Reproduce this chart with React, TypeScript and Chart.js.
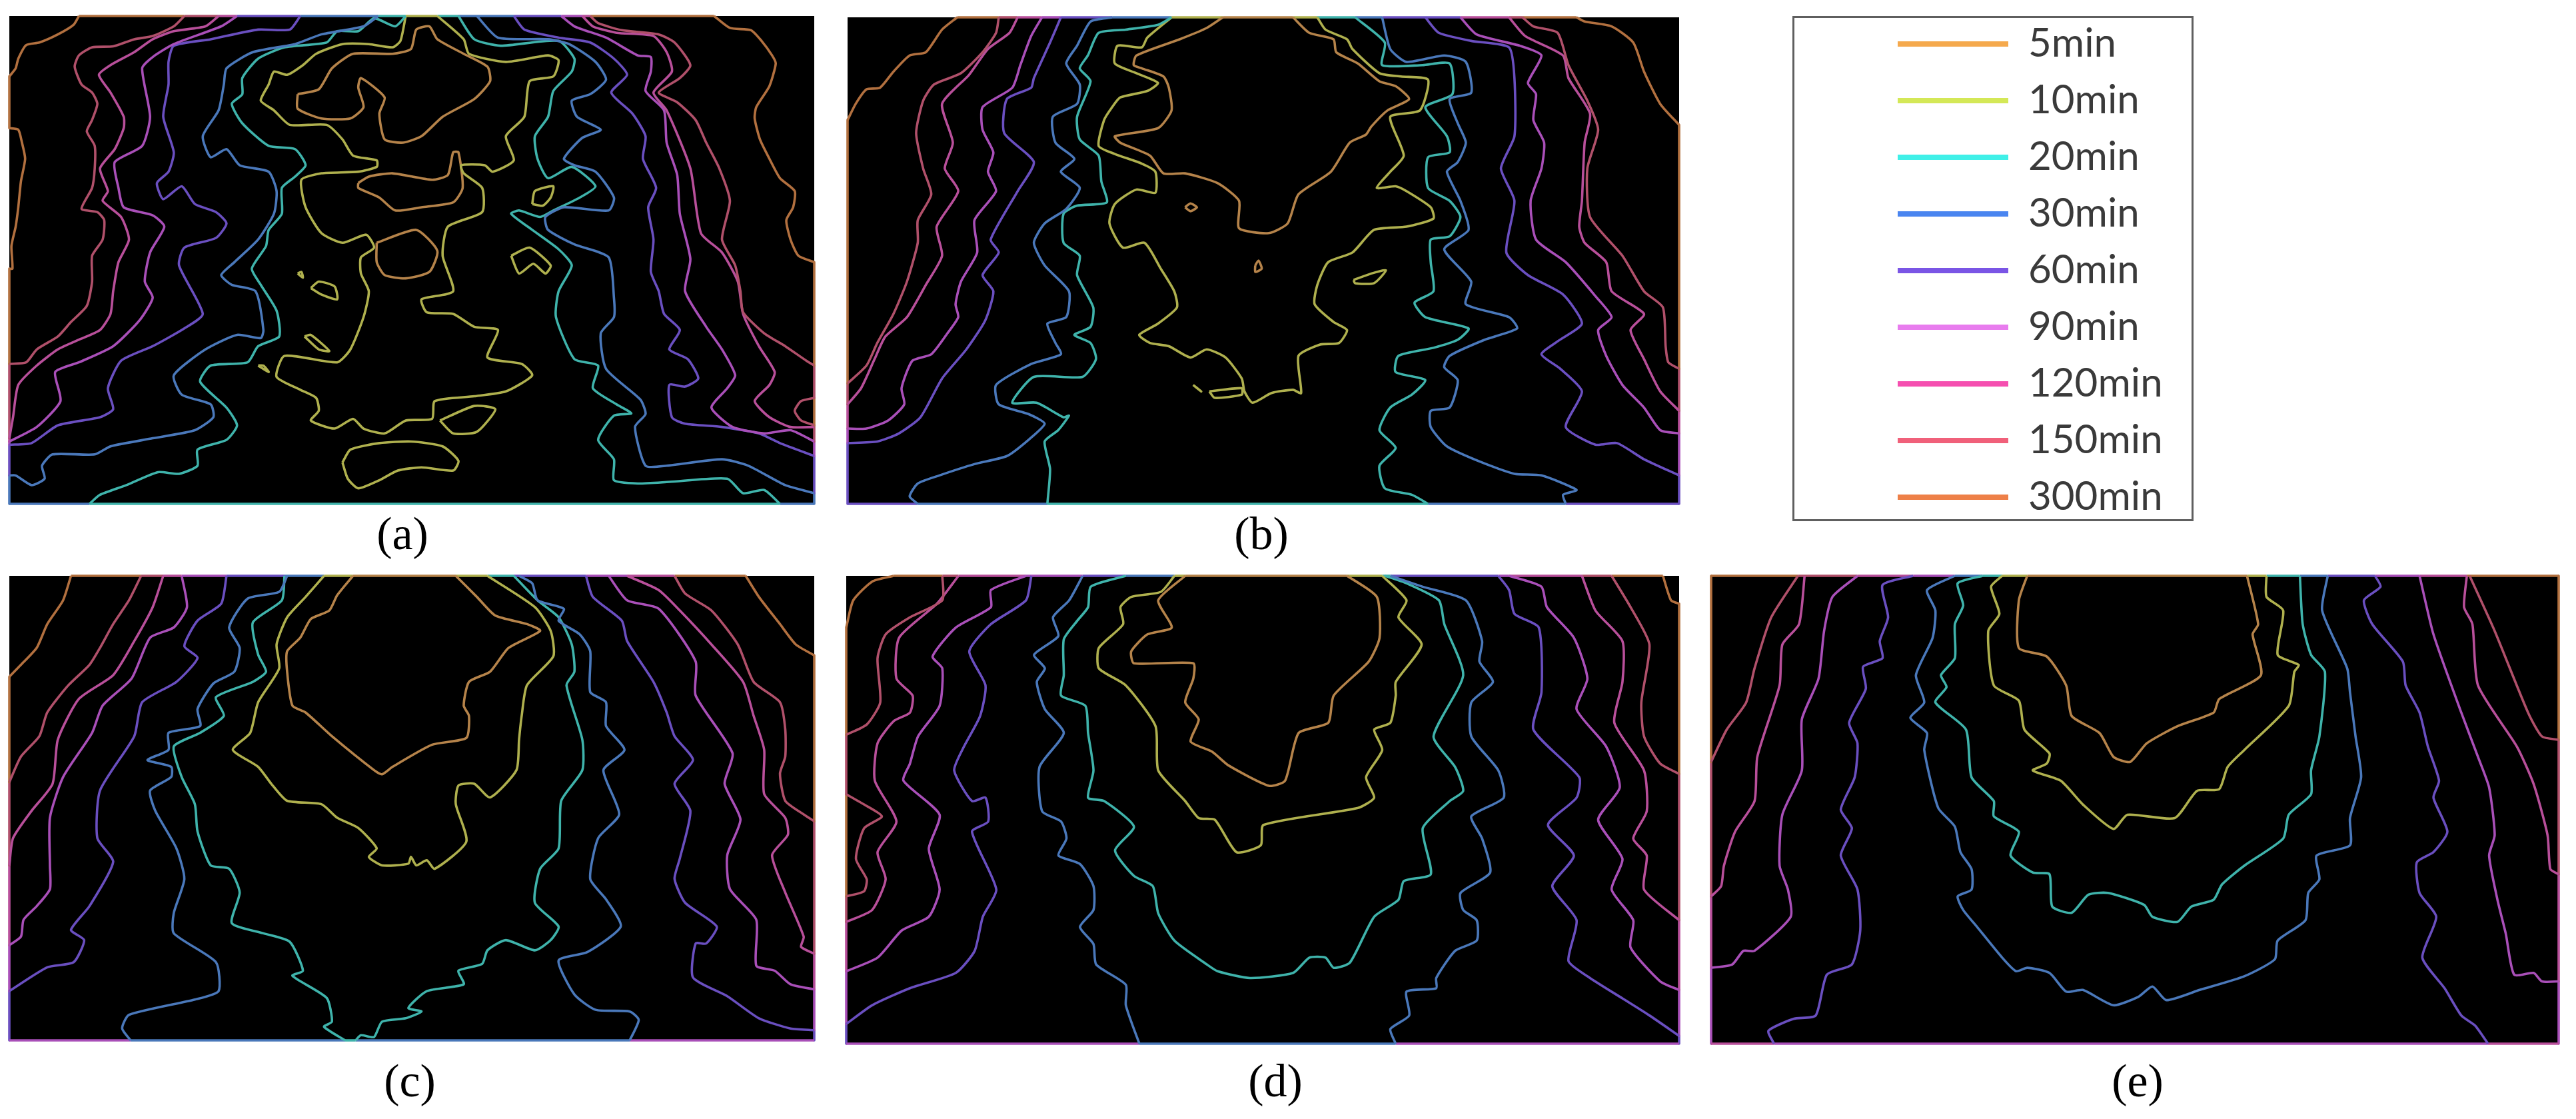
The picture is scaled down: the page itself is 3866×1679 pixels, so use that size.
import React, { useEffect, useRef } from "react";
import { Chart, registerables } from "chart.js";

Chart.register(...registerables);

const levelLabels = ["5min", "10min", "20min", "30min", "60min", "90min", "120min", "150min", "300min"];
const legendColors = ["#f5a94d", "#d4e857", "#40f0e8", "#4a85f0", "#7a55e5", "#e87cee", "#f54fb0", "#f0607a", "#ee8048"];
const lineColors = ["#b5834a", "#afb04e", "#3fb3ab", "#4a78ba", "#6a4fc0", "#a94fb8", "#b84f9a", "#b0506a", "#b2703f"];
const panelLabels = ["(a)", "(b)", "(c)", "(d)", "(e)"];

type P = number[][];

// ---------- panel (a) ----------
const a300A: P = [[150,28],[140,55],[110,85],[75,110],[50,118],[35,160],[30,190],[18,215]];
const a300B: P = [[18,375],[35,380],[42,420],[48,470],[40,540],[35,620],[30,680],[22,740],[24,810],[18,810]];
const a300C: P = [[1355,28],[1385,65],[1425,72],[1445,105],[1465,150],[1472,175],[1460,245],[1435,310],[1432,345],[1442,410],[1460,470],[1480,530],[1508,570],[1505,620],[1492,660],[1500,720],[1515,770],[1545,790]];
const a150A: P = [[350,28],[330,60],[290,90],[255,100],[215,122],[175,125],[150,150],[142,185],[155,240],[175,265],[185,300],[175,350],[165,385],[180,430],[180,500],[175,560],[155,625],[185,635],[198,660],[195,720],[175,770],[175,850],[165,925],[135,975],[110,1020],[70,1060],[50,1100],[18,1105]];
const a150B: P = [[1120,28],[1135,50],[1180,72],[1250,85],[1280,110],[1310,180],[1290,220],[1250,265],[1285,295],[1320,350],[1340,420],[1365,500],[1385,600],[1370,720],[1395,800],[1405,880],[1410,945],[1450,1010],[1490,1050],[1530,1095],[1545,1110]];
const a150C: P = [[1545,1210],[1520,1220],[1508,1250],[1520,1280],[1545,1295]];
const a120A: P = [[415,28],[390,60],[330,75],[290,100],[255,140],[210,180],[188,210],[210,265],[235,340],[235,375],[218,440],[190,500],[205,570],[195,600],[230,650],[245,720],[225,790],[215,880],[210,950],[190,1000],[150,1030],[110,1060],[70,1110],[35,1170],[25,1270],[18,1335]];
const a120B: P = [[1105,28],[1125,60],[1170,80],[1240,90],[1265,140],[1275,200],[1240,265],[1265,320],[1310,500],[1330,700],[1370,760],[1400,850],[1410,950],[1440,1050],[1470,1130],[1460,1170],[1432,1220],[1460,1270],[1500,1300],[1545,1300]];
const a90A: P = [[450,28],[420,60],[330,115],[290,155],[270,190],[285,340],[270,430],[218,480],[225,560],[235,620],[290,645],[312,680],[285,760],[275,850],[290,900],[265,970],[215,1050],[150,1100],[105,1130],[115,1220],[70,1300],[18,1345]];
const a90B: P = [[1065,28],[1090,60],[1150,95],[1210,150],[1235,155],[1235,200],[1225,260],[1260,320],[1265,420],[1285,520],[1290,640],[1310,780],[1300,880],[1340,990],[1370,1060],[1395,1140],[1380,1180],[1350,1240],[1390,1300],[1450,1320],[1500,1310],[1545,1345]];
const a60A: P = [[570,28],[550,70],[490,70],[400,100],[330,120],[320,170],[320,240],[310,340],[330,450],[320,510],[298,545],[310,595],[345,555],[370,610],[410,635],[430,670],[410,715],[350,745],[340,800],[385,950],[350,995],[290,1050],[230,1095],[205,1180],[215,1245],[190,1270],[110,1295],[60,1350],[18,1355]];
const a60B: P = [[975,28],[995,70],[1060,95],[1120,110],[1165,160],[1190,210],[1160,265],[1200,330],[1225,400],[1220,470],[1245,560],[1230,620],[1240,720],[1235,820],[1250,880],[1260,950],[1290,1000],[1270,1060],[1305,1090],[1325,1150],[1300,1175],[1270,1170],[1275,1270],[1300,1290],[1370,1300],[1440,1320],[1480,1350],[1545,1390]];
const a30A: P = [[718,28],[690,60],[610,85],[560,115],[480,140],[430,190],[425,240],[415,320],[385,400],[400,465],[430,440],[455,490],[510,510],[525,570],[520,640],[490,720],[445,790],[420,830],[440,860],[485,880],[500,1000],[495,1025],[450,1015],[390,1060],[330,1140],[345,1200],[400,1230],[405,1270],[370,1310],[290,1335],[210,1360],[180,1385],[100,1385],[80,1420],[85,1460],[60,1480],[30,1450],[18,1450]];
const a30B: P = [[905,28],[945,95],[1040,100],[1080,115],[1130,170],[1150,225],[1120,270],[1085,290],[1095,340],[1140,380],[1105,405],[1070,470],[1090,490],[1130,510],[1165,590],[1155,630],[1070,620],[1035,650],[1040,690],[1090,735],[1155,775],[1165,900],[1165,960],[1140,1010],[1150,1120],[1215,1215],[1225,1260],[1205,1300],[1225,1420],[1265,1420],[1370,1400],[1420,1420],[1490,1480],[1545,1505]];
const a20A: P = [[770,28],[750,60],[710,35],[680,75],[640,75],[620,110],[540,125],[490,160],[460,220],[460,270],[440,300],[460,360],[510,430],[560,440],[580,490],[560,525],[535,560],[535,640],[510,690],[505,740],[478,810],[495,860],[525,940],[530,1020],[490,1050],[470,1100],[400,1110],[380,1160],[430,1240],[450,1295],[430,1340],[375,1370],[375,1420],[340,1445],[300,1440],[240,1480],[190,1510],[170,1538]];
const a20B: P = [[870,28],[900,100],[950,120],[1060,105],[1090,160],[1085,200],[1050,260],[1040,340],[1015,400],[1020,470],[1040,530],[1085,495],[1130,555],[1100,590],[1050,630],[1025,650],[985,630],[970,640],[1010,690],[1060,750],[1085,800],[1060,880],[1055,960],[1090,1090],[1135,1110],[1125,1180],[1170,1230],[1198,1258],[1165,1265],[1135,1340],[1165,1400],[1165,1465],[1210,1475],[1270,1470],[1380,1460],[1410,1505],[1450,1495],[1480,1538]];
const a10Main: P = [[770,28],[760,105],[745,125],[700,115],[650,115],[600,145],[575,180],[545,210],[520,200],[510,240],[495,290],[520,320],[550,365],[620,365],[650,410],[670,460],[715,475],[715,495],[680,510],[610,515],[572,535],[580,620],[610,700],[650,730],[695,705],[710,745],[685,775],[685,825],[700,880],[690,960],[665,1060],[640,1100],[540,1080],[525,1145],[570,1185],[600,1210],[605,1250],[590,1280],[635,1305],[670,1275],[690,1305],[730,1320],[770,1280],[820,1275],[825,1220],[900,1205],[960,1190],[1010,1140],[990,1105],[925,1085],[945,1000],[900,990],[860,950],[810,945],[800,905],[860,880],[840,770],[850,680],[915,635],[915,560],[880,515],[875,490],[920,490],[935,510],[975,475],[960,400],[995,340],[1005,230],[1050,215],[1060,165],[1040,150],[960,170],[890,145],[880,100],[830,28]];
const a10I1: P = [[1010,610],[1015,570],[1050,555],[1045,590],[1030,615],[1010,610]];
const a10I2: P = [[970,770],[1005,745],[1045,800],[1035,825],[1012,795],[985,825],[970,770]];
const a10I3: P = [[565,825],[572,820],[575,838],[565,825]];
const a10I4: P = [[590,870],[605,850],[635,865],[640,905],[610,890],[590,870]];
const a10I5: P = [[578,1020],[590,1015],[625,1065],[605,1060],[578,1020]];
const a10I6: P = [[490,1110],[500,1110],[510,1130],[490,1110]];
const a10I7: P = [[835,1280],[900,1235],[940,1245],[905,1315],[860,1320],[835,1280]];
const a10I8: P = [[650,1410],[665,1370],[720,1350],[780,1345],[840,1360],[870,1405],[860,1435],[800,1425],[755,1435],[720,1465],[680,1490],[660,1460],[650,1410]];
const a5A: P = [[565,270],[605,255],[630,190],[670,145],[745,145],[780,130],[790,70],[815,60],[830,100],[880,145],[925,185],[930,230],[900,285],[840,340],[800,400],[765,420],[730,410],[720,330],[730,280],[685,220],[680,250],[690,310],[665,345],[610,345],[565,315],[565,270]];
const a5B: P = [[680,545],[700,525],[745,515],[820,535],[850,520],[860,450],[870,450],[878,560],[860,605],[800,620],[750,630],[720,590],[680,560],[680,545]];
const a5C: P = [[715,730],[790,690],[830,755],[815,820],[770,840],[730,830],[715,790],[715,730]];
const aEdges: number[][] = [
  [8,150,28,350,28],[7,350,28,415,28],[6,415,28,450,28],[4,450,28,570,28],[3,570,28,718,28],[2,718,28,770,28],[1,770,28,830,28],[2,830,28,870,28],[3,870,28,975,28],[4,975,28,1065,28],[5,1065,28,1105,28],[6,1105,28,1120,28],[8,1120,28,1355,28],
  [3,18,1538,170,1538],[2,170,1538,1480,1538],[3,1480,1538,1545,1538],
  [8,18,215,18,375],[8,18,810,18,1105],[7,18,1105,18,1335],[6,18,1335,18,1345],[5,18,1345,18,1355],[4,18,1355,18,1450],[3,18,1450,18,1538],
  [8,1545,790,1545,1110],[7,1545,1110,1545,1210],[8,1545,1210,1545,1295],[7,1545,1295,1545,1345],[5,1545,1345,1545,1390],[4,1545,1390,1545,1505],[3,1545,1505,1545,1538],
];
const panelA: [number, P][] = [[8,a300A],[8,a300B],[8,a300C],[7,a150A],[7,a150B],[7,a150C],[6,a120A],[6,a120B],[5,a90A],[5,a90B],[4,a60A],[4,a60B],[3,a30A],[3,a30B],[2,a20A],[2,a20B],[1,a10Main],[1,a10I1],[1,a10I2],[1,a10I3],[1,a10I4],[1,a10I5],[1,a10I6],[1,a10I7],[1,a10I8],[0,a5A],[0,a5B],[0,a5C]];

// ---------- panel (b) ----------
const b300L: P = [[218,32],[190,70],[160,140],[130,150],[100,200],[75,250],[50,255],[30,300],[15,350]];
const b300R: P = [[1365,32],[1380,45],[1430,60],[1470,110],[1490,200],[1520,300],[1555,365]];
const b150L: P = [[295,32],[290,80],[265,140],[225,205],[175,240],[155,290],[142,390],[155,500],[170,580],[145,660],[145,730],[125,850],[100,950],[70,1040],[50,1110],[15,1165]];
const b150R: P = [[1265,32],[1285,60],[1330,80],[1350,180],[1385,290],[1405,380],[1385,500],[1390,650],[1450,770],[1490,880],[1525,930],[1530,1050],[1535,1100],[1555,1120]];
const b120L: P = [[330,32],[315,80],[275,130],[240,210],[190,300],[210,420],[195,500],[220,570],[180,680],[190,770],[160,860],[125,960],[85,1020],[65,1090],[40,1180],[15,1230]];
const b120R: P = [[1240,32],[1270,90],[1340,150],[1350,220],[1390,330],[1380,420],[1375,600],[1370,680],[1380,730],[1420,790],[1430,880],[1490,950],[1465,1000],[1490,1090],[1520,1190],[1555,1250]];
const b90L: P = [[375,32],[355,90],[335,180],[320,250],[265,310],[265,380],[285,450],[275,510],[290,570],[250,660],[255,760],[225,850],[215,920],[220,960],[200,1010],[170,1075],[135,1095],[115,1180],[120,1230],[90,1280],[50,1305],[15,1305]];
const b90R: P = [[1150,32],[1180,85],[1260,120],[1300,150],[1275,235],[1290,270],[1285,350],[1305,420],[1300,500],[1280,600],[1290,720],[1345,790],[1400,895],[1430,960],[1405,1000],[1420,1080],[1450,1170],[1490,1240],[1520,1310],[1555,1320]];
const b60L: P = [[410,32],[390,110],[360,220],[355,250],[310,285],[305,390],[360,480],[330,570],[280,720],[295,760],[265,830],[285,880],[270,970],[235,1060],[190,1150],[150,1270],[110,1320],[70,1345],[15,1350]];
const b60R: P = [[1085,32],[1110,80],[1170,105],[1240,125],[1250,220],[1250,400],[1225,500],[1250,600],[1235,760],[1275,830],[1340,890],[1375,980],[1330,1035],[1300,1075],[1335,1120],[1375,1190],[1345,1300],[1400,1355],[1440,1350],[1490,1400],[1555,1450]];
const b30L: P = [[505,32],[465,45],[440,120],[420,175],[445,240],[440,300],[395,340],[400,420],[435,470],[410,510],[445,560],[420,625],[380,670],[360,730],[380,800],[425,880],[420,960],[385,980],[400,1040],[410,1075],[355,1105],[290,1170],[295,1230],[350,1260],[380,1290],[350,1340],[310,1390],[250,1415],[185,1450],[145,1475],[130,1515],[145,1538]];
const b30R: P = [[1005,32],[1020,130],[1050,170],[1120,150],[1160,170],[1170,265],[1130,285],[1145,360],[1160,420],[1145,480],[1125,510],[1150,600],[1165,690],[1120,750],[1170,850],[1160,920],[1240,960],[1255,995],[1195,1030],[1130,1080],[1120,1115],[1145,1155],[1130,1240],[1095,1250],[1095,1300],[1125,1360],[1190,1410],[1250,1445],[1300,1450],[1365,1495],[1340,1510],[1345,1538]];
const b20L: P = [[615,32],[590,55],[530,70],[480,80],[460,150],[445,190],[465,230],[440,340],[445,410],[480,460],[485,540],[495,605],[440,615],[415,640],[415,730],[445,770],[440,830],[470,930],[465,990],[435,1015],[465,1040],[475,1090],[450,1145],[360,1145],[320,1225],[365,1225],[415,1270],[425,1265],[405,1310],[380,1345],[390,1430],[385,1538]];
const b20R: P = [[955,32],[1010,110],[1005,180],[1080,180],[1130,175],[1135,270],[1085,310],[1125,400],[1130,450],[1090,465],[1090,560],[1130,600],[1150,650],[1130,710],[1095,720],[1095,790],[1100,880],[1065,915],[1085,960],[1165,995],[1145,1030],[1100,1055],[1035,1080],[1030,1130],[1085,1155],[1060,1200],[1020,1240],[1000,1310],[1030,1365],[1000,1420],[1010,1490],[1060,1510],[1090,1538]];
const b10Main: P = [[615,32],[570,95],[560,125],[515,120],[510,175],[550,205],[590,235],[570,260],[520,280],[505,310],[490,350],[480,430],[510,455],[560,485],[585,510],[585,575],[550,565],[510,610],[500,670],[525,745],[565,730],[595,810],[620,880],[625,930],[590,980],[555,1015],[575,1040],[610,1050],[650,1085],[680,1060],[715,1085],[745,1150],[750,1190],[765,1225],[800,1195],[840,1185],[855,1195],[850,1080],[890,1045],[925,1040],[940,1000],[915,975],[880,920],[885,860],[905,790],[950,760],[990,690],[1050,680],[1100,655],[1095,620],[1050,570],[1030,555],[995,560],[1020,510],[1045,460],[1020,340],[1075,320],[1090,225],[1040,215],[1000,205],[950,130],[940,100],[900,70],[885,32]];
const b10I1: P = [[952,845],[985,825],[1012,815],[990,855],[955,855],[952,845]];
const b10I2: P = [[655,1170],[670,1190],[655,1170]];
const b10I3: P = [[685,1190],[745,1180],[745,1200],[695,1210],[685,1190]];
const b5Main: P = [[840,32],[870,80],[915,100],[920,140],[960,175],[1000,230],[1030,245],[1055,285],[1015,320],[985,370],[975,395],[945,420],[910,510],[850,580],[830,670],[795,700],[740,685],[740,600],[700,545],[640,515],[600,515],[575,460],[520,420],[510,400],[590,375],[615,320],[610,250],[600,215],[560,190],[545,180],[550,150],[630,100],[680,65],[710,32]];
const b5I1: P = [[640,620],[650,608],[662,620],[650,632],[640,620]];
const b5I2: P = [[770,800],[776,785],[782,810],[770,820],[770,800]];
const bEdges: number[][] = [
  [8,218,32,295,32],[7,295,32,330,32],[6,330,32,375,32],[5,375,32,410,32],[4,410,32,505,32],[3,505,32,615,32],[1,615,32,710,32],[0,710,32,840,32],[1,840,32,885,32],[2,885,32,955,32],[3,955,32,1005,32],[4,1005,32,1150,32],[6,1150,32,1240,32],[7,1240,32,1265,32],[8,1265,32,1365,32],
  [4,15,1538,145,1538],[3,145,1538,385,1538],[2,385,1538,1090,1538],[3,1090,1538,1345,1538],[4,1345,1538,1555,1538],
  [8,15,350,15,1165],[7,15,1165,15,1230],[6,15,1230,15,1305],[5,15,1305,15,1350],[4,15,1350,15,1538],
  [8,1555,365,1555,1120],[7,1555,1120,1555,1250],[6,1555,1250,1555,1320],[5,1555,1320,1555,1450],[4,1555,1450,1555,1538],
];
const panelB: [number, P][] = [[8,b300L],[8,b300R],[7,b150L],[7,b150R],[6,b120L],[6,b120R],[5,b90L],[5,b90R],[4,b60L],[4,b60R],[3,b30L],[3,b30R],[2,b20L],[2,b20R],[1,b10Main],[1,b10I1],[1,b10I2],[1,b10I3],[0,b5Main],[0,b5I1],[0,b5I2]];

// ---------- panel (c) ----------
const c300L: P = [[135,28],[120,100],[90,170],[70,240],[40,290],[18,325]];
const c300R: P = [[1415,28],[1440,90],[1480,170],[1510,230],[1545,262]];
const c150L: P = [[268,28],[245,100],[215,170],[190,240],[170,290],[130,350],[90,430],[75,500],[40,560],[18,635]];
const c150R: P = [[1280,28],[1300,80],[1350,130],[1400,230],[1430,340],[1480,400],[1490,480],[1490,560],[1480,610],[1490,690],[1525,730],[1545,750]];
const c120L: P = [[310,28],[290,120],[255,220],[215,320],[150,390],[110,510],[100,640],[60,720],[25,800],[18,880]];
const c120R: P = [[1190,28],[1250,70],[1290,130],[1350,230],[1410,340],[1430,440],[1450,540],[1450,670],[1490,740],[1495,790],[1465,850],[1490,960],[1525,1090],[1520,1120],[1545,1140]];
const c90L: P = [[345,28],[355,120],[330,180],[285,210],[250,330],[195,410],[175,490],[120,620],[95,740],[95,880],[95,950],[70,1000],[45,1040],[40,1090],[18,1115]];
const c90R: P = [[1155,28],[1190,100],[1250,125],[1320,280],[1320,380],[1390,550],[1375,640],[1405,745],[1380,850],[1385,950],[1435,1040],[1435,1175],[1470,1190],[1500,1230],[1545,1245]];
const c60L: P = [[430,28],[420,110],[375,160],[350,235],[375,270],[335,340],[270,400],[255,500],[190,660],[185,800],[215,870],[170,1000],[135,1070],[160,1100],[140,1165],[90,1180],[18,1250]];
const c60R: P = [[1112,28],[1125,90],[1180,160],[1190,220],[1240,340],[1265,430],[1280,500],[1315,570],[1280,640],[1310,720],[1290,860],[1280,920],[1300,990],[1360,1060],[1340,1110],[1320,1110],[1315,1210],[1380,1265],[1440,1330],[1500,1360],[1545,1365]];
const c30L: P = [[545,28],[530,75],[470,95],[435,180],[455,240],[445,310],[405,345],[375,420],[380,470],[320,490],[320,540],[280,570],[325,590],[325,620],[285,660],[295,720],[335,830],[350,920],[330,1020],[330,1080],[410,1165],[415,1250],[370,1275],[245,1320],[232,1360],[248,1395]];
const c30R: P = [[985,28],[1010,50],[1020,100],[1070,125],[1060,160],[1100,200],[1120,250],[1120,370],[1150,400],[1150,470],[1185,540],[1145,600],[1175,730],[1135,800],[1120,920],[1150,980],[1178,1060],[1115,1135],[1060,1160],[1090,1260],[1130,1305],[1195,1310],[1212,1335],[1195,1395]];
const c20L: P = [[540,28],[535,100],[480,165],[490,260],[505,310],[480,340],[410,385],[425,440],[380,490],[330,530],[345,620],[370,700],[375,780],[400,880],[435,890],[455,960],[440,1050],[500,1080],[550,1105],[575,1190],[555,1205],[620,1270],[630,1340],[615,1355],[655,1395]];
const c20R: P = [[975,28],[1020,100],[1060,150],[1085,230],[1090,310],[1075,350],[1105,510],[1105,600],[1065,690],[1060,830],[1025,890],[1015,990],[1060,1060],[1045,1100],[1015,1130],[960,1100],[925,1130],[915,1170],[870,1190],[880,1230],[810,1250],[775,1300],[800,1310],[770,1330],[725,1340],[710,1385],[685,1380],[675,1395]];
const c10Main: P = [[615,28],[580,90],[545,150],[525,230],[530,300],[490,400],[475,490],[442,540],[490,590],[515,640],[545,690],[610,700],[640,740],[680,770],[715,830],[700,855],[725,880],[775,875],[780,855],[790,880],[810,865],[825,890],[885,810],[865,700],[870,645],[900,640],[930,680],[980,600],[985,510],[990,440],[1000,350],[1050,265],[1045,190],[1015,120],[925,28]];
const c5Main: P = [[670,28],[640,85],[625,130],[590,155],[570,210],[545,250],[545,310],[555,410],[580,430],[630,500],[710,600],[725,612],[745,590],[820,525],[885,505],[890,440],[880,410],[890,340],[930,310],[965,240],[1025,190],[1000,170],[940,145],[905,90],[865,28]];
const cEdges: number[][] = [
  [8,135,28,268,28],[7,268,28,310,28],[6,310,28,345,28],[5,345,28,430,28],[4,430,28,540,28],[3,540,28,615,28],[1,615,28,670,28],[0,670,28,865,28],[1,865,28,925,28],[2,925,28,975,28],[4,975,28,1112,28],[5,1112,28,1190,28],[6,1190,28,1280,28],[8,1280,28,1415,28],
  [5,18,1395,248,1395],[3,248,1395,655,1395],[2,655,1395,675,1395],[3,675,1395,1195,1395],[5,1195,1395,1545,1395],
  [8,18,325,18,635],[7,18,635,18,880],[6,18,880,18,1115],[5,18,1115,18,1250],[4,18,1250,18,1395],
  [8,1545,262,1545,750],[7,1545,750,1545,1140],[6,1545,1140,1545,1245],[5,1545,1245,1545,1365],[4,1545,1365,1545,1395],
];
const panelC: [number, P][] = [[8,c300L],[8,c300R],[7,c150L],[7,c150R],[6,c120L],[6,c120R],[5,c90L],[5,c90R],[4,c60L],[4,c60R],[3,c30L],[3,c30R],[2,c20L],[2,c20R],[1,c10Main],[0,c5Main]];

// ---------- panel (d) ----------
const d300L: P = [[100,28],[60,45],[25,100],[12,180]];
const d300R: P = [[1525,28],[1540,100],[1555,110]];
const d150A: P = [[190,28],[190,100],[130,150],[85,200],[70,270],[75,400],[50,465],[12,495]];
const d150B: P = [[12,670],[45,700],[78,735],[45,770],[30,860],[50,920],[45,955],[12,970]];
const d150R: P = [[1430,28],[1465,120],[1500,230],[1485,400],[1490,500],[1520,580],[1555,610]];
const d120L: P = [[220,28],[180,110],[110,210],[105,330],[135,380],[130,430],[100,455],[70,520],[65,630],[105,750],[70,840],[85,920],[60,1010],[12,1045]];
const d120R: P = [[1375,28],[1400,130],[1450,220],[1450,340],[1435,460],[1490,600],[1495,720],[1470,800],[1495,850],[1490,950],[1555,1040]];
const d90L: P = [[345,28],[280,70],[280,120],[215,180],[172,265],[190,300],[185,410],[145,500],[130,580],[118,630],[185,730],[165,830],[185,950],[165,1030],[115,1070],[70,1150],[12,1190]];
const d90R: P = [[1240,28],[1300,60],[1310,120],[1360,210],[1385,330],[1365,420],[1420,530],[1445,650],[1405,745],[1450,860],[1430,950],[1470,1040],[1465,1120],[1520,1220],[1555,1245]];
const d60L: P = [[355,28],[345,100],[280,170],[240,250],[270,350],[260,440],[230,530],[212,600],[245,690],[270,680],[275,750],[245,780],[290,950],[265,1030],[250,1130],[215,1195],[130,1240],[60,1290],[12,1345]];
const d60R: P = [[1220,28],[1240,70],[1250,140],[1295,180],[1300,370],[1285,480],[1370,620],[1365,680],[1312,760],[1360,850],[1320,940],[1365,1040],[1350,1160],[1390,1210],[1450,1270],[1500,1320],[1555,1380]];
const d30L: P = [[450,28],[425,100],[395,150],[405,205],[360,260],[380,300],[365,340],[380,420],[415,490],[370,590],[375,720],[410,750],[420,800],[405,850],[445,875],[470,940],[470,1010],[445,1060],[470,1110],[475,1170],[530,1230],[530,1290],[555,1403]];
const d30R: P = [[1020,28],[1080,60],[1160,100],[1190,220],[1185,280],[1210,340],[1170,400],[1170,500],[1220,600],[1230,680],[1170,735],[1190,800],[1205,900],[1150,960],[1155,1010],[1180,1040],[1180,1100],[1140,1130],[1105,1210],[1105,1240],[1050,1250],[1055,1320],[1020,1360],[1030,1403]];
const d20Main: P = [[530,28],[465,60],[460,120],[440,160],[415,215],[415,320],[410,380],[455,410],[460,490],[470,600],[460,680],[490,690],[545,765],[510,835],[545,910],[580,940],[590,1020],[620,1100],[680,1170],[700,1190],[760,1210],[840,1195],[870,1150],[900,1150],[915,1180],[945,1165],[990,1030],[1035,980],[1045,925],[1095,905],[1080,770],[1130,690],[1155,660],[1140,590],[1100,500],[1155,320],[1120,170],[1110,100],[1050,50],[1010,28]];
const d10Main: P = [[620,28],[595,75],[540,90],[520,120],[525,170],[480,240],[480,300],[530,350],[585,470],[590,600],[640,690],[665,740],[695,745],[735,840],[780,820],[785,760],[960,710],[990,680],[975,620],[1005,540],[990,480],[1020,460],[1030,380],[1030,340],[1078,230],[1035,150],[1050,100],[1005,28]];
const d5Main: P = [[640,28],[590,100],[615,180],[570,200],[540,250],[545,285],[655,285],[655,330],[640,400],[665,450],[650,515],[690,545],[720,585],[795,645],[825,630],[850,490],[905,460],[915,380],[980,280],[1000,210],[995,90],[940,28]];
const dEdges: number[][] = [
  [8,100,28,190,28],[7,190,28,220,28],[6,220,28,345,28],[5,345,28,450,28],[4,450,28,530,28],[3,530,28,620,28],[1,620,28,640,28],[0,640,28,940,28],[1,940,28,1005,28],[2,1005,28,1020,28],[4,1020,28,1220,28],[5,1220,28,1240,28],[6,1240,28,1375,28],[7,1375,28,1430,28],[8,1430,28,1525,28],
  [5,12,1403,555,1403],[3,555,1403,1030,1403],[5,1030,1403,1555,1403],
  [8,12,180,12,495],[7,12,495,12,670],[8,12,670,12,970],[7,12,970,12,1045],[6,12,1045,12,1190],[5,12,1190,12,1345],[4,12,1345,12,1403],
  [8,1555,110,1555,610],[7,1555,610,1555,1040],[6,1555,1040,1555,1245],[5,1555,1245,1555,1380],[4,1555,1380,1555,1403],
];
const panelD: [number, P][] = [[8,d300L],[8,d300R],[7,d150A],[7,d150B],[7,d150R],[6,d120L],[6,d120R],[5,d90L],[5,d90R],[4,d60L],[4,d60R],[3,d30L],[3,d30R],[2,d20Main],[1,d10Main],[0,d5Main]];

// ---------- panel (e) ----------
const e150L: P = [[178,28],[130,150],[100,300],[85,400],[50,480],[22,575]];
const e150R: P = [[1385,28],[1430,190],[1490,430],[1515,500],[1545,510]];
const e120L: P = [[190,28],[180,170],[150,230],[145,350],[105,560],[100,690],[65,780],[45,880],[40,940],[22,970]];
const e120R: P = [[1380,28],[1375,120],[1390,170],[1400,350],[1470,530],[1500,640],[1525,790],[1530,890],[1545,905]];
const e90L: P = [[285,28],[240,90],[225,190],[215,330],[185,450],[185,600],[150,730],[145,880],[160,950],[165,1030],[100,1130],[80,1130],[60,1170],[22,1180]];
const e90R: P = [[1295,28],[1320,200],[1370,430],[1400,560],[1420,650],[1430,790],[1420,850],[1435,980],[1450,1080],[1465,1200],[1500,1195],[1515,1220],[1545,1220]];
const e60L: P = [[385,28],[330,55],[340,150],[325,220],[330,270],[295,295],[300,360],[270,460],[285,520],[280,620],[255,715],[275,770],[255,850],[285,950],[290,1070],[275,1170],[230,1200],[210,1320],[170,1330],[125,1365],[135,1403]];
const e60R: P = [[1215,28],[1225,60],[1195,100],[1210,170],[1265,280],[1270,350],[1295,430],[1310,530],[1330,630],[1320,680],[1345,780],[1320,840],[1290,870],[1295,960],[1325,1030],[1300,1150],[1340,1240],[1370,1320],[1395,1350],[1418,1403]];
const e30Main: P = [[460,28],[410,70],[425,130],[420,210],[390,320],[405,400],[380,445],[410,490],[405,540],[430,710],[460,765],[470,840],[490,890],[490,950],[465,970],[475,1010],[500,1060],[545,1150],[570,1190],[590,1180],[630,1195],[660,1250],[690,1245],[745,1290],[790,1265],[815,1235],[840,1275],[900,1245],[980,1205],[1035,1155],[1040,1100],[1090,1040],[1095,960],[1115,920],[1110,850],[1170,820],[1170,740],[1190,620],[1180,500],[1170,370],[1165,300],[1120,130],[1130,28]];
const e20Main: P = [[510,28],[465,50],[475,115],[460,170],[460,270],[435,320],[445,355],[425,400],[480,480],[490,620],[530,690],[530,735],[575,780],[560,850],[600,900],[630,905],[635,1000],[670,1018],[700,965],[735,960],[800,995],[815,1030],[860,1045],[885,1000],[925,980],[940,935],[980,880],[1050,800],[1060,730],[1100,670],[1100,600],[1115,500],[1125,310],[1100,260],[1085,170],[1080,28]];
const e10Main: P = [[545,28],[525,60],[540,140],[520,190],[530,350],[575,395],[585,480],[630,550],[625,580],[600,600],[650,630],[690,700],[745,772],[770,730],[855,740],[895,660],[935,655],[950,590],[980,540],[1060,410],[1070,310],[1078,290],[1040,260],[1050,130],[1020,90],[1020,28]];
const e5Main: P = [[590,28],[575,100],[575,240],[625,265],[660,350],[670,440],[720,490],[745,560],[775,575],[805,520],[860,470],[925,430],[935,390],[1010,320],[995,200],[1005,170],[985,28]];
const eEdges: number[][] = [
  [8,22,28,178,28],[7,178,28,285,28],[6,285,28,385,28],[5,385,28,460,28],[3,460,28,510,28],[2,510,28,545,28],[1,545,28,590,28],[0,590,28,985,28],[1,985,28,1020,28],[2,1020,28,1080,28],[3,1080,28,1130,28],[4,1130,28,1215,28],[5,1215,28,1295,28],[6,1295,28,1380,28],[8,1380,28,1545,28],
  [6,22,1403,135,1403],[5,135,1403,1418,1403],[6,1418,1403,1545,1403],
  [8,22,28,22,575],[7,22,575,22,970],[6,22,970,22,1180],[5,22,1180,22,1403],
  [8,1545,28,1545,510],[7,1545,510,1545,905],[6,1545,905,1545,1220],[5,1545,1220,1545,1403],
];
const panelE: [number, P][] = [[7,e150L],[7,e150R],[6,e120L],[6,e120R],[5,e90L],[5,e90R],[4,e60L],[4,e60R],[3,e30Main],[2,e20Main],[1,e10Main],[0,e5Main]];

const panels = [
  { lines: panelA, edges: aEdges, xr: [18, 1545], yr: [28, 1538], box: [14.2, 23.6, 1221.8, 755.5] },
  { lines: panelB, edges: bEdges, xr: [15, 1555], yr: [32, 1538], box: [1272, 25.5, 2519.5, 755.5] },
  { lines: panelC, edges: cEdges, xr: [18, 1545], yr: [28, 1395], box: [14, 864.3, 1222, 1561.7] },
  { lines: panelD, edges: dEdges, xr: [12, 1555], yr: [28, 1403], box: [1269.7, 864.3, 2519.5, 1565.8] },
  { lines: panelE, edges: eEdges, xr: [22, 1545], yr: [28, 1403], box: [2568.4, 864.3, 3840.7, 1565.8] },
];
const labelPos = [[604, 801], [1893, 801], [615, 1622], [1914, 1622], [3208, 1622]];

const blackPlot = {
  id: "blackPlot",
  beforeDatasetsDraw(chart: any) {
    const { ctx, chartArea: a } = chart;
    ctx.save();
    ctx.fillStyle = "#000";
    ctx.fillRect(a.left, a.top, a.right - a.left, a.bottom - a.top);
    ctx.restore();
  },
};

const MARGIN = 5;

function Panel({ index }: { index: number }) {
  const ref = useRef<HTMLCanvasElement>(null);
  const p = panels[index];
  const [l, t, r, b] = p.box;
  useEffect(() => {
    const toXY = (pts: P) => pts.map(([x, y]) => ({ x, y }));
    const ds = (level: number, pts: P, width: number, tension: number) => ({
      data: toXY(pts),
      borderColor: lineColors[level],
      borderWidth: width,
      pointRadius: 0,
      showLine: true,
      tension,
      clip: false as any,
      borderJoinStyle: "round" as const,
    });
    const datasets = [
      ...p.lines.map(([lv, pts]) => ds(lv, pts, 3.6, 0.2)),
      ...p.edges.map(([lv, x0, y0, x1, y1]) => ds(lv, [[x0, y0], [x1, y1]], 3.6, 0)),
    ];
    const chart = new Chart(ref.current!, {
      type: "scatter",
      data: { datasets },
      options: {
        animation: false,
        responsive: false,
        devicePixelRatio: 1,
        layout: { padding: MARGIN },
        plugins: { legend: { display: false }, tooltip: { enabled: false } },
        scales: {
          x: { type: "linear", display: false, min: p.xr[0], max: p.xr[1] },
          y: { type: "linear", display: false, reverse: true, min: p.yr[0], max: p.yr[1] },
        },
      },
      plugins: [blackPlot],
    });
    return () => chart.destroy();
  }, []);
  return (
    <canvas
      ref={ref}
      width={Math.round(r - l + 2 * MARGIN)}
      height={Math.round(b - t + 2 * MARGIN)}
      style={{ position: "absolute", left: l - MARGIN, top: t - MARGIN, filter: "blur(0.7px)" }}
    />
  );
}

function LegendChart() {
  const ref = useRef<HTMLCanvasElement>(null);
  useEffect(() => {
    const chart = new Chart(ref.current!, {
      type: "line",
      data: {
        datasets: levelLabels.map((label, i) => ({
          label,
          data: [],
          backgroundColor: legendColors[i],
          borderColor: legendColors[i],
          borderWidth: 0,
        })),
      },
      options: {
        animation: false,
        responsive: false,
        devicePixelRatio: 1,
        scales: { x: { display: false }, y: { display: false } },
        plugins: {
          tooltip: { enabled: false },
          legend: {
            position: "left",
            align: "start",
            maxWidth: 470,
            labels: {
              boxWidth: 166,
              boxHeight: 8,
              padding: 25,
              color: "#3a3a3a",
              font: { family: "Lato", size: 60 },
            },
          },
        },
      },
    });
    return () => chart.destroy();
  }, []);
  return (
    <canvas
      ref={ref}
      width={480}
      height={830}
      style={{ position: "absolute", left: 2823, top: 11, filter: "blur(0.7px)" }}
    />
  );
}

export default function App() {
  return (
    <div style={{ position: "fixed", left: 0, top: 0, width: 3866, height: 1679, overflow: "hidden", background: "#fff" }}>
      {panels.map((_, i) => (
        <Panel key={i} index={i} />
      ))}
      <div
        style={{
          position: "absolute",
          left: 2690,
          top: 24,
          width: 602,
          height: 758,
          boxSizing: "border-box",
          border: "3px solid #5f5f5f",
        }}
      />
      <LegendChart />
      {panelLabels.map((t, i) => (
        <div
          key={t}
          style={{
            position: "absolute",
            left: labelPos[i][0],
            top: labelPos[i][1],
            transform: "translate(-50%, -50%)",
            fontFamily: "'Liberation Serif', serif",
            fontSize: 70,
            color: "#000",
            lineHeight: 1,
          }}
        >
          {t}
        </div>
      ))}
    </div>
  );
}
